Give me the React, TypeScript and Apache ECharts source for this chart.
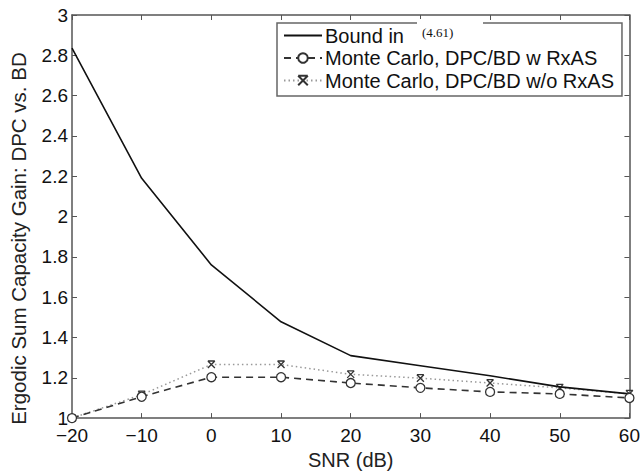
import React, { useEffect, useRef } from "react";
import * as echarts from "echarts";

const snr = [-20, -10, 0, 10, 20, 30, 40, 50, 60];
const boundValues = [2.836, 2.19, 1.76, 1.478, 1.31, 1.26, 1.21, 1.155, 1.12];
const withRxAS = [1.0, 1.106, 1.203, 1.203, 1.174, 1.15, 1.13, 1.12, 1.1];
const withoutRxAS = [1.0, 1.116, 1.266, 1.266, 1.217, 1.198, 1.174, 1.15, 1.12];
const seriesNames = ["Bound in", "Monte Carlo, DPC/BD w RxAS", "Monte Carlo, DPC/BD w/o RxAS"];

const FONT = "Liberation Sans, Arial, sans-serif";

export default function App() {
  const ref = useRef<HTMLDivElement>(null);
  useEffect(() => {
    if (!ref.current) return;
    const chart = echarts.init(ref.current, undefined, { renderer: "svg" });
    const toPairs = (v: number[]) => snr.map((x, i) => [x, v[i]]);
    const axisLine = { onZero: false, lineStyle: { color: "#555", width: 1.5 } };
    const tick = { inside: true, length: 5, lineStyle: { color: "#555" } };
    chart.setOption({
      animation: false,
      backgroundColor: "#fff",
      grid: { left: 71, right: 11, top: 15, bottom: 46, containLabel: false },
      legend: {
        orient: "vertical",
        left: 277,
        top: 23,
        width: 345,
        backgroundColor: "#fff",
        borderColor: "#666",
        borderWidth: 1.5,
        borderRadius: 0,
        padding: [2, 8, 5, 6],
        itemWidth: 38,
        itemHeight: 12,
        itemGap: 1.5,
        textStyle: { fontFamily: FONT, fontSize: 20, color: "#111", lineHeight: 21, padding: [0, 0, 0, -2] },
        data: [
          { name: seriesNames[0], itemStyle: { opacity: 0 } },
          { name: seriesNames[1] },
          { name: seriesNames[2] },
        ],
      },
      xAxis: [
        {
          type: "value",
          min: -20,
          max: 60,
          interval: 10,
          name: "SNR (dB)",
          nameLocation: "middle",
          nameGap: 23,
          nameTextStyle: { fontFamily: FONT, fontSize: 20, color: "#222" },
          axisLine,
          axisTick: tick,
          axisLabel: {
            fontFamily: FONT,
            fontSize: 19,
            color: "#111",
            margin: 8,
            formatter: (v: number) => String(v).replace("-", "\u2212"),
          },
          splitLine: { show: false },
        },
        {
          type: "value",
          position: "top",
          min: -20,
          max: 60,
          interval: 10,
          axisLine,
          axisTick: tick,
          axisLabel: { show: false },
          splitLine: { show: false },
        },
      ],
      yAxis: [
        {
          type: "value",
          min: 1,
          max: 3,
          interval: 0.2,
          name: "Ergodic Sum Capacity Gain: DPC vs. BD",
          nameLocation: "middle",
          nameGap: 43,
          nameTextStyle: { fontFamily: FONT, fontSize: 20.5, color: "#222", padding: [0, 44, 0, 0] },
          axisLine,
          axisTick: tick,
          axisLabel: { fontFamily: FONT, fontSize: 19, color: "#111", margin: 4 },
          splitLine: { show: false },
        },
        {
          type: "value",
          position: "right",
          min: 1,
          max: 3,
          interval: 0.2,
          axisLine,
          axisTick: tick,
          axisLabel: { show: false },
          splitLine: { show: false },
        },
      ],
      series: [
        {
          name: seriesNames[0],
          type: "line",
          data: toPairs(boundValues),
          symbol: "none",
          lineStyle: { color: "#111", width: 1.6, type: "solid" },
          itemStyle: { color: "#111" },
          z: 3,
        },
        {
          name: seriesNames[1],
          type: "line",
          data: toPairs(withRxAS),
          symbol: "circle",
          symbolSize: 9,
          lineStyle: { color: "#333", width: 1.6, type: [7, 5] },
          itemStyle: { color: "#fff", borderColor: "#333", borderWidth: 1.3 },
          z: 4,
        },
        {
          name: seriesNames[2],
          type: "line",
          data: toPairs(withoutRxAS),
          symbol: "path://M0,0L10,10M10,0L0,10M0,0L10,0",
          symbolSize: 7,
          lineStyle: { color: "#999", width: 1.5, type: [1.5, 3] },
          itemStyle: { color: "none", borderColor: "#333", borderWidth: 1.3 },
          z: 2,
        },
      ],
      graphic: [
        { type: "rect", shape: { x: 417, y: 19, width: 66, height: 8 }, style: { fill: "#fff" }, z: 100 },
        {
          type: "text",
          x: 422,
          y: 26,
          style: { text: "(4.61)", font: "13px 'Liberation Serif', serif", fill: "#111" },
          z: 101,
        },
      ],
    });
    return () => chart.dispose();
  }, []);
  return (
    <div style={{ position: "absolute", left: 0, top: 0 }}>
      <div ref={ref} style={{ width: 643, height: 475 }} />
    </div>
  );
}
